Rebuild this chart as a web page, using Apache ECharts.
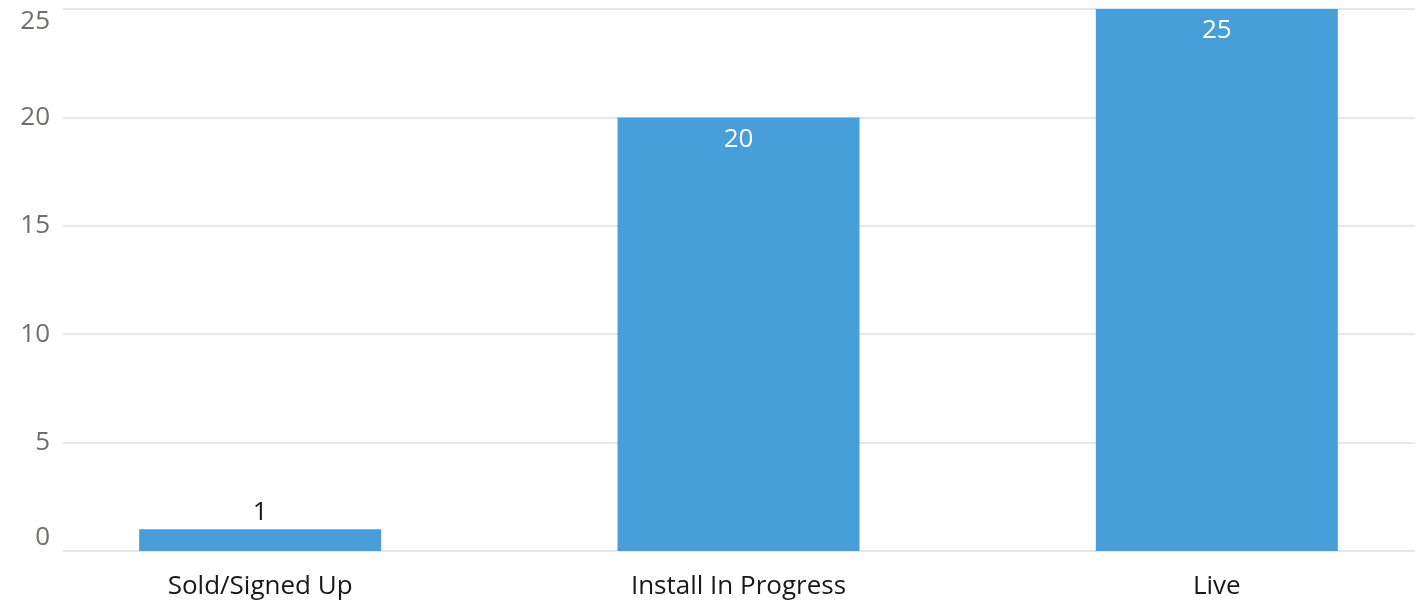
<!DOCTYPE html>
<html><head><meta charset="utf-8">
<script src="https://cdn.jsdelivr.net/npm/echarts@6/dist/echarts.min.js"></script>
<style>html,body{margin:0;padding:0;background:#fff}#c{width:1427px;height:603px}</style>
</head><body><div id="c"></div>
<script>
const categories = ["Sold/Signed Up", "Install In Progress", "Live"];
const values = [1, 20, 25];
const yTicks = [0, 5, 10, 15, 20, 25];

const FONT = "Open Sans";
const chart = echarts.init(document.getElementById('c'));
chart.setOption({
  animation: false,
  grid: [
    {left: 63, right: 12, top: 9, bottom: 52, outerBoundsMode: 'none'},
    {left: 21, width: 1435, top: 9, bottom: 52, outerBoundsMode: 'none'}
  ],
  xAxis: [
    {gridIndex: 0, type: 'category', data: categories, show: false},
    {gridIndex: 1, type: 'category', data: categories,
     axisLine: {show: false}, axisTick: {show: false},
     axisLabel: {color: '#181818', fontSize: 26, fontFamily: FONT, margin: 23}}
  ],
  yAxis: [
    {gridIndex: 0, type: 'value', min: yTicks[0], max: yTicks[yTicks.length-1], interval: 5,
     axisLine: {show: false}, axisTick: {show: false},
     axisLabel: {color: '#706e6b', fontSize: 26, fontFamily: FONT, margin: 13,
                 verticalAlignMinLabel: 'bottom', verticalAlignMaxLabel: 'top'},
     splitLine: {lineStyle: {color: '#e5e7ef', width: 2}}},
    {gridIndex: 1, type: 'value', min: 0, max: 25, show: false, splitLine: {show: false}}
  ],
  series: [{
    type: 'bar', xAxisIndex: 1, yAxisIndex: 1,
    barWidth: 242,
    data: values.map(v => ({
      value: v,
      label: v < 3
        ? {show: true, position: 'top', color: '#181818', distance: 4}
        : {show: true, position: 'insideTop', color: '#ffffff', distance: 9}
    })),
    itemStyle: {color: '#479ed9'},
    label: {fontSize: 26, fontFamily: FONT}
  }]
});
</script></body></html>
